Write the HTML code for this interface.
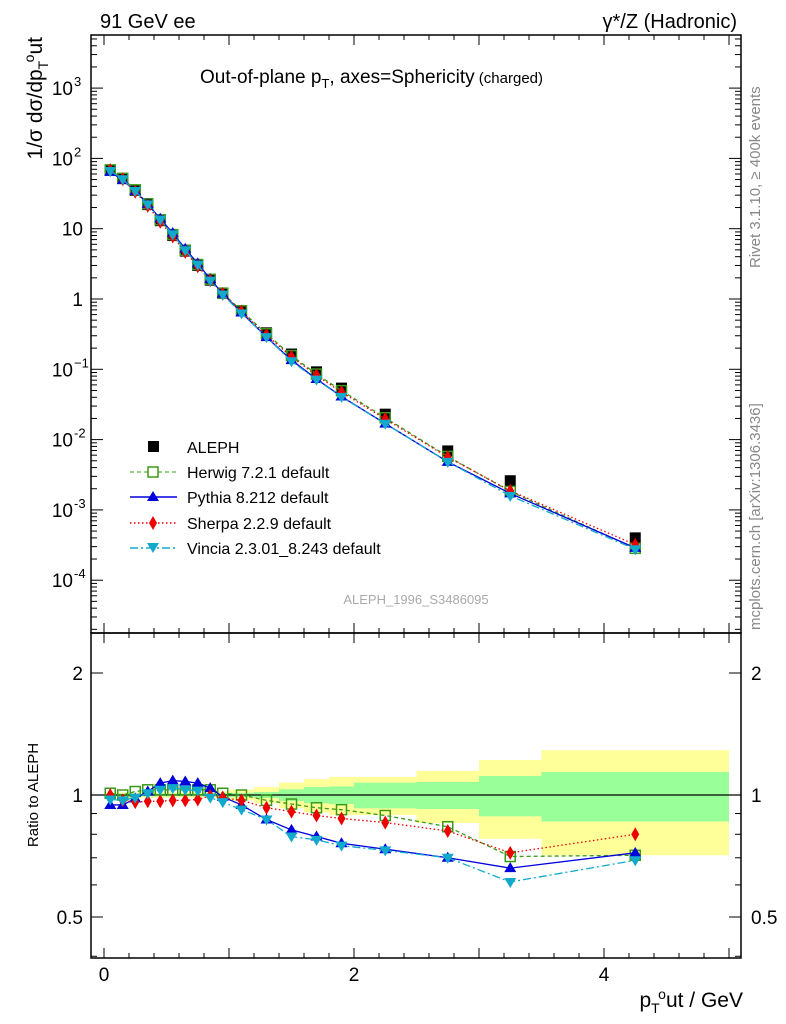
<!DOCTYPE html>
<html><head><meta charset="utf-8"><style>
html,body{margin:0;padding:0;background:#fff;}
svg{display:block;font-family:"Liberation Sans",sans-serif;}
</style></head><body>
<svg id="chart" width="786" height="1024" viewBox="0 0 786 1024" xmlns="http://www.w3.org/2000/svg">
<text x="100" y="28" font-size="20">91 GeV ee</text>
<text x="737" y="28" font-size="20" text-anchor="end">γ*/Z (Hadronic)</text>
<text x="200" y="83" font-size="19">Out-of-plane p<tspan font-size="13" dy="5">T</tspan><tspan dy="-5">, axes=Sphericity</tspan><tspan font-size="15"> (charged)</tspan></text>
<text transform="translate(760,268) rotate(-90)" font-size="15" fill="#888">Rivet 3.1.10, ≥ 400k events</text>
<text transform="translate(760,630) rotate(-90)" font-size="15" fill="#888">mcplots.cern.ch [arXiv:1306.3436]</text>
<text x="416" y="604" font-size="13" fill="#aaa" text-anchor="middle">ALEPH_1996_S3486095</text>
<text transform="translate(42,37) rotate(-90)" font-size="21" text-anchor="end">1/σ dσ/dp<tspan font-size="14" dy="6">T</tspan><tspan font-size="14" dy="-14">o</tspan><tspan dy="8">ut</tspan></text>
<text transform="translate(38,795) rotate(-90)" font-size="15" text-anchor="middle">Ratio to ALEPH</text>
<text x="743" y="1007" font-size="21" text-anchor="end">p<tspan font-size="14" dy="6">T</tspan><tspan font-size="14" dy="-14">o</tspan><tspan dy="8">ut / GeV</tspan></text>
<g id="bands"></g><g id="marks"></g><g id="axes"></g>
<g>
<rect x="148" y="441" width="11" height="11" fill="#000"/>
<text x="187" y="453" font-size="16">ALEPH</text>
<line x1="130" y1="472" x2="177" y2="472" stroke="#3a9a1a" stroke-dasharray="4,3"/>
<rect x="148" y="467" width="10" height="10" fill="#fff" stroke="#3a9a1a" stroke-width="1.5"/>
<text x="187" y="478" font-size="16">Herwig 7.2.1 default</text>
<line x1="130" y1="497" x2="177" y2="497" stroke="#0000dd" stroke-width="1.5"/>
<path d="M153,491 L159,501 L147,501 Z" fill="#0000dd"/>
<text x="187" y="503" font-size="16">Pythia 8.212 default</text>
<line x1="130" y1="523" x2="177" y2="523" stroke="#ee0000" stroke-dasharray="1.5,2.5" stroke-width="1.5"/>
<path d="M153,516 L157,523 L153,530 L149,523 Z" fill="#ee0000"/>
<text x="187" y="529" font-size="16">Sherpa 2.2.9 default</text>
<line x1="130" y1="548" x2="177" y2="548" stroke="#11aacc" stroke-dasharray="8,3,2,3" stroke-width="1.5"/>
<path d="M147,543 L159,543 L153,553 Z" fill="#11aacc"/>
<text x="187" y="554" font-size="16">Vincia 2.3.01_8.243 default</text>
</g>
</svg>
<script>
const xCenters=[0.05,0.15,0.25,0.35,0.45,0.55,0.65,0.75,0.85,0.95,1.1,1.3,1.5,1.7,1.9,2.25,2.75,3.25,4.25];
const binEdges=[0,0.1,0.2,0.3,0.4,0.5,0.6,0.7,0.8,0.9,1.0,1.2,1.4,1.6,1.8,2.0,2.5,3.0,3.5,5.0];
const alephValues=[68,52,35,22,13,8,4.8,3.0,1.85,1.2,0.68,0.33,0.165,0.092,0.054,0.023,0.0069,0.0026,0.0004];
const yellowErr=[0.015,0.015,0.015,0.015,0.015,0.015,0.015,0.015,0.015,0.02,0.03,0.046,0.073,0.094,0.108,0.108,0.147,0.22,0.29];
const greenErr=[0.008,0.008,0.008,0.008,0.008,0.008,0.008,0.008,0.008,0.01,0.012,0.017,0.033,0.046,0.05,0.073,0.077,0.114,0.14];
const herwigRatio=[1.01,1.0,1.02,1.03,1.03,1.03,1.03,1.03,1.03,1.01,1.0,0.97,0.95,0.93,0.92,0.89,0.835,0.705,0.71];
const pythiaRatio=[0.945,0.945,0.98,1.02,1.07,1.085,1.08,1.07,1.04,0.99,0.945,0.87,0.82,0.79,0.76,0.735,0.70,0.66,0.72];
const sherpaRatio=[1.0,0.97,0.96,0.965,0.965,0.97,0.97,0.975,0.995,0.985,0.97,0.93,0.91,0.89,0.875,0.855,0.815,0.72,0.80];
const vinciaRatio=[0.975,0.97,0.985,1.01,1.03,1.04,1.03,1.025,0.985,0.96,0.92,0.87,0.79,0.775,0.75,0.73,0.70,0.61,0.69];
const NS='http://www.w3.org/2000/svg';
const L=91,R=741,T=35,MB=633,RB=958;
const X=v=>104+125*v;
const YM=v=>299-70.3*Math.log10(v);
const YR=v=>795-122*Math.log2(v);
function mk(tag,attrs,parent){const e=document.createElementNS(NS,tag);for(const k in attrs)e.setAttribute(k,attrs[k]);parent.appendChild(e);return e;}
const bands=document.getElementById('bands'),marks=document.getElementById('marks'),axes=document.getElementById('axes');
for(let i=0;i<xCenters.length;i++){
 const x0=X(binEdges[i]),x1=X(binEdges[i+1]);
 const y=mk('rect',{x:x0,y:YR(1+yellowErr[i]),width:x1-x0,height:YR(1-yellowErr[i])-YR(1+yellowErr[i]),fill:'#ffff99'},bands);
 
 
 const g=mk('rect',{x:x0,y:YR(1+greenErr[i]),width:x1-x0,height:YR(1-greenErr[i])-YR(1+greenErr[i]),fill:'#99ff99'},bands);
 
 
}
const ref=mk('line',{x1:L,x2:R,y1:YR(1),y2:YR(1),stroke:'#000','stroke-width':1.2},bands);


alephValues.forEach((v,i)=>{
 const r=mk('rect',{x:X(xCenters[i])-5.5,y:YM(v)-5.5,width:11,height:11,fill:'#000'},marks);
 
 
});
const series=[
 {name:'herwig',r:herwigRatio,c:'#3a9a1a',dash:'4,3',m:'sq'},
 {name:'pythia',r:pythiaRatio,c:'#0000dd',dash:'',m:'up'},
 {name:'sherpa',r:sherpaRatio,c:'#ee0000',dash:'1.5,2.5',m:'dia'},
 {name:'vincia',r:vinciaRatio,c:'#11aacc',dash:'8,3,2,3',m:'down'}];
function marker(m,x,y,c,name){
 let e;
 if(m==='sq')e=mk('rect',{x:x-5,y:y-5,width:10,height:10,fill:'none',stroke:c,'stroke-width':1.5},marks);
 else if(m==='up')e=mk('path',{d:`M${x},${y-6}L${x+6},${y+4}L${x-6},${y+4}Z`,fill:c},marks);
 else if(m==='dia')e=mk('path',{d:`M${x},${y-7}L${x+4},${y}L${x},${y+7}L${x-4},${y}Z`,fill:c},marks);
 else e=mk('path',{d:`M${x-6},${y-4}L${x+6},${y-4}L${x},${y+6}Z`,fill:c},marks);
 
 
}
series.forEach(s=>{
 const main=s.r.map((r,i)=>[X(xCenters[i]),YM(r*alephValues[i])]);
 const rat=s.r.map((r,i)=>[X(xCenters[i]),YR(r)]);
 [main,rat].forEach((pts,k)=>{
  const p=mk('polyline',{points:pts.map(p=>p.join(',')).join(' '),fill:'none',stroke:s.c,'stroke-width':1.3,'stroke-dasharray':s.dash},marks);
  
  
  pts.forEach(q=>marker(s.m,q[0],q[1],s.c,s.name+(k?'-ratio-point':'-point')));
 });
});
[[T,MB],[MB,RB]].forEach(([t,b],k)=>{
 const f=mk('rect',{x:L,y:t,width:R-L,height:b-t,fill:'none',stroke:'#000','stroke-width':1.5},axes);
 
 
});
function tick(x1,y1,x2,y2){mk('line',{x1,y1,x2,y2,stroke:'#000','stroke-width':1},axes);}
for(let v=0;v<=5.001;v+=0.2){
 const x=X(v),maj=Math.abs(v-Math.round(v))<1e-6,h=maj?10:5;
 [T,MB].forEach(t=>tick(x,t,x,t+h));[MB,RB].forEach(b=>tick(x,b,x,b-h));
}
[0,2,4].forEach(v=>{const t=mk('text',{x:X(v),y:981,'font-size':19,'text-anchor':'middle'},axes);t.textContent=v;
 
 });
for(let e=-5;e<=3;e++){
 for(let m=1;m<10;m++){const y=YM(m*Math.pow(10,e));if(y<T||y>MB)continue;const h=m===1?12:6;tick(L,y,L+h,y);tick(R,y,R-h,y);}
}
const yl={'-4':['10','-4'],'-3':['10','-3'],'-2':['10','-2'],'-1':['10','−1'],'0':['1',''],'1':['10',''],'2':['10','2'],'3':['10','3']};
for(const e in yl){
 const y=YM(Math.pow(10,+e));
 const t=mk('text',{x:yl[e][1]?73:83,y:y+7,'font-size':19,'text-anchor':'end'},axes);
 t.textContent=yl[e][0];
 
 
 if(yl[e][1]){const s=mk('text',{x:74,y:y-2,'font-size':13},axes);s.textContent=yl[e][1];
 
 }
}
[0.4,0.5,0.6,0.7,0.8,0.9,1,2].forEach(v=>{const y=YR(v);const h=(v===0.5||v===1||v===2)?12:6;tick(L,y,L+h,y);tick(R,y,R-h,y);});
[['2',2],['1',1],['0.5',0.5]].forEach(([s,v])=>{
 const a=mk('text',{x:83,y:YR(v)+7,'font-size':19,'text-anchor':'end'},axes);a.textContent=s;
 
 
 const b=mk('text',{x:751,y:YR(v)+7,'font-size':19},axes);b.textContent=s;
 
 
});
</script>
</body></html>
